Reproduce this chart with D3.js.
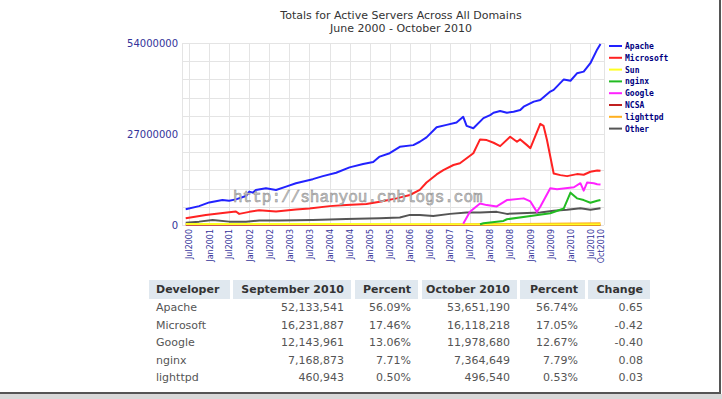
<!DOCTYPE html>
<html lang="en">
<head>
    <meta charset="UTF-8">
    <title>Totals for Active Servers Across All Domains</title>
    <script src="https://d3js.org/d3.v7.min.js"></script>
    <style>
        body { margin: 0; background: #fff; }
        .title { font: 11px "DejaVu Sans", Verdana, sans-serif; fill: #333; text-anchor: middle; }
        .axis text { font-family: "DejaVu Sans", Verdana, sans-serif; fill: #33339a; }
        .legend text { font: bold 8px "DejaVu Sans Mono", monospace; fill: #000080; }
        .tbl text { font: 11px "DejaVu Sans", Verdana, sans-serif; fill: #555; }
        .tbl .head { font-weight: bold; fill: #333; }
    </style>
</head>
<body>
<svg id="chart" width="722" height="399"></svg>
<script>
    // series values in millions of active sites, [month, value]
    var apache = [["2000-06",4.7],["2000-10",5.6],["2001-01",6.7],["2001-05",7.4],["2001-07",7.2],["2001-09",7.6],["2001-12",8.6],["2002-01",9.9],["2002-02",9.6],["2002-03",10.4],["2002-06",10.9],["2002-09",10.4],["2002-12",11.4],["2003-03",12.4],["2003-08",13.6],["2003-11",14.5],["2004-03",15.5],["2004-07",17.1],["2004-11",18.1],["2005-02",18.7],["2005-04",20.3],["2005-07",21.3],["2005-10",23.2],["2006-02",23.7],["2006-04",24.7],["2006-06",26.0],["2006-09",29.0],["2006-12",29.7],["2007-03",30.4],["2007-05",32.1],["2007-06",29.4],["2007-08",28.7],["2007-11",31.7],["2008-01",32.6],["2008-02",33.3],["2008-04",33.8],["2008-06",33.3],["2008-08",33.6],["2008-10",34.1],["2008-11",35.1],["2009-02",36.6],["2009-04",37.1],["2009-07",39.6],["2009-08",40.1],["2009-11",43.2],["2010-01",42.8],["2010-03",45.0],["2010-05",45.5],["2010-07",48.0],["2010-09",52.1],["2010-10",53.7]];
    var microsoft = [["2000-06",2.0],["2000-12",3.0],["2001-07",3.8],["2001-09",4.0],["2001-10",3.3],["2002-01",3.9],["2002-04",4.4],["2002-09",4.0],["2003-03",4.6],["2003-07",4.9],["2004-01",5.6],["2004-06",5.9],["2004-12",6.2],["2005-04",6.9],["2005-09",7.9],["2006-01",8.9],["2006-04",10.4],["2006-06",12.6],["2006-09",15.0],["2006-11",16.3],["2007-02",17.8],["2007-04",18.3],["2007-06",19.8],["2007-08",21.3],["2007-10",25.4],["2007-12",25.2],["2008-02",24.4],["2008-04",23.4],["2008-07",26.2],["2008-09",24.7],["2008-10",25.4],["2008-12",23.7],["2009-01",22.8],["2009-04",30.0],["2009-05",29.4],["2009-06",25.2],["2009-08",15.3],["2009-10",14.8],["2009-12",14.5],["2010-03",15.1],["2010-05",14.9],["2010-07",15.8],["2010-09",16.2],["2010-10",16.1]];
    var sun = [["2000-06",0.3],["2003-10",0.3],["2007-02",0.2],["2010-10",0.15]];
    var nginx = [["2007-10",0.2],["2007-11",0.5],["2008-05",1.2],["2008-06",1.7],["2008-12",2.5],["2009-07",3.5],["2009-11",4.9],["2010-01",9.6],["2010-03",7.9],["2010-05",7.4],["2010-07",6.6],["2010-09",7.2],["2010-10",7.4]];
    var google = [["2007-05",0.4],["2007-07",3.9],["2007-10",6.4],["2007-12",5.9],["2008-03",5.5],["2008-06",7.4],["2008-11",7.9],["2009-01",7.0],["2009-03",3.9],["2009-04",5.4],["2009-07",10.9],["2009-09",10.6],["2010-02",11.2],["2010-04",12.4],["2010-05",10.2],["2010-06",12.6],["2010-08",12.4],["2010-09",12.1],["2010-10",12.0]];
    var ncsa = [["2000-06",0.1],["2010-10",0.02]];
    var lighttpd = [["2006-04",0.05],["2008-10",0.3],["2010-10",0.5]];
    var other = [["2000-06",0.7],["2000-10",1.0],["2001-02",1.5],["2001-07",1.0],["2001-12",1.0],["2002-04",1.3],["2002-10",1.3],["2003-08",1.5],["2004-06",1.8],["2005-04",2.0],["2005-10",2.2],["2006-01",3.0],["2006-04",3.0],["2006-08",2.7],["2007-01",3.3],["2007-06",3.7],["2007-10",3.7],["2008-03",3.9],["2008-06",3.3],["2008-10",3.5],["2009-04",3.7],["2009-08",4.2],["2009-12",4.5],["2010-04",5.0],["2010-07",4.5],["2010-10",5.0]];

    var seriesNames = ["Apache", "Microsoft", "Sun", "nginx", "Google", "NCSA", "lighttpd", "Other"];
    var seriesColors = ["#2222ff", "#ff2222", "#ffff22", "#22bb22", "#ff22ff", "#c02020", "#ffb020", "#555555"];
    var xTickLabels = ["Jul2000","Jan2001","Jul2001","Jan2002","Jul2002","Jan2003","Jul2003","Jan2004","Jul2004","Jan2005","Jul2005","Jan2006","Jul2006","Jan2007","Jul2007","Jan2008","Jul2008","Jan2009","Jul2009","Jan2010","Jul2010","Oct2010"];
    var yTickValues = [0, 27000000, 54000000];

    // table
    var tableHeads = ["Developer", "September 2010", "Percent", "October 2010", "Percent", "Change"];
    var developers = ["Apache", "Microsoft", "Google", "nginx", "lighttpd"];
    var sep2010 = [52133541, 16231887, 12143961, 7168873, 460943];
    var sepPercent = [56.09, 17.46, 13.06, 7.71, 0.50];
    var oct2010 = [53651190, 16118218, 11978680, 7364649, 496540];
    var octPercent = [56.74, 17.05, 12.67, 7.79, 0.53];
    var change = [0.65, -0.42, -0.40, 0.08, 0.03];

    var seriesData = [apache, microsoft, sun, nginx, google, ncsa, lighttpd, other];
    var parseMonth = d3.timeParse("%Y-%m");
    var parseTick = d3.timeParse("%b%Y");

    var svg = d3.select("#chart");
    var plot = { left: 182, right: 604, top: 43, bottom: 225 };

    var x = d3.scaleTime()
        .domain([parseMonth("2000-06"), parseMonth("2010-10")])
        .range([185.7, 600.5]);
    var y = d3.scaleLinear()
        .domain([0, 54000000])
        .range([plot.bottom, plot.top]);

    // title
    svg.append("text").attr("class", "title").attr("x", 401).attr("y", 19)
        .text("Totals for Active Servers Across All Domains");
    svg.append("text").attr("class", "title").attr("x", 401).attr("y", 32)
        .text("June 2000 - October 2010");

    // grid
    var grid = svg.append("g").attr("stroke", "#e4e4e4").attr("stroke-width", 1);
    grid.selectAll(".hg")
        .data(d3.range(0, 54000001, 5400000))
        .enter().append("line")
        .attr("x1", plot.left).attr("x2", plot.right)
        .attr("y1", d => Math.round(y(d)) + 0.5).attr("y2", d => Math.round(y(d)) + 0.5);
    var tickDates = xTickLabels.map(parseTick);
    grid.selectAll(".vg")
        .data(tickDates.slice(0, -1))
        .enter().append("line")
        .attr("x1", d => Math.round(x(d)) + 0.5).attr("x2", d => Math.round(x(d)) + 0.5)
        .attr("y1", plot.top).attr("y2", plot.bottom);
    grid.append("line").attr("x1", plot.left + 0.5).attr("x2", plot.left + 0.5).attr("y1", plot.top).attr("y2", plot.bottom);
    grid.append("line").attr("x1", plot.right + 0.5).attr("x2", plot.right + 0.5).attr("y1", plot.top).attr("y2", plot.bottom);

    // axes
    var yAxis = svg.append("g")
        .attr("class", "axis")
        .attr("transform", "translate(" + plot.left + ",0)")
        .call(d3.axisLeft(y).tickValues(yTickValues).tickFormat(d3.format("d")).tickSize(0).tickPadding(4));
    yAxis.select(".domain").remove();
    yAxis.selectAll("text").style("font-size", "10px");

    var xAxis = svg.append("g")
        .attr("class", "axis")
        .attr("transform", "translate(0," + plot.bottom + ")")
        .call(d3.axisBottom(x).tickValues(tickDates).tickFormat(d3.timeFormat("%b%Y")).tickSize(0));
    xAxis.select(".domain").remove();
    xAxis.selectAll("text")
        .style("font-size", "8px")
        .attr("transform", "rotate(-90)")
        .attr("x", -4).attr("y", 0).attr("dy", "0.35em")
        .attr("text-anchor", "end");

    // lines
    var line = d3.line()
        .x(d => x(parseMonth(d[0])))
        .y(d => y(d[1] * 1e6));
    var drawOrder = [7, 6, 5, 2, 4, 3, 1, 0];
    svg.append("g").selectAll("path")
        .data(drawOrder)
        .enter().append("path")
        .attr("fill", "none")
        .attr("stroke", i => seriesColors[i])
        .attr("stroke-width", 2)
        .attr("stroke-linejoin", "round")
        .attr("d", i => line(seriesData[i]));

    // legend
    var legend = svg.append("g").attr("class", "legend");
    var leg = legend.selectAll("g")
        .data(seriesNames)
        .enter().append("g")
        .attr("transform", (d, i) => "translate(609," + (46 + i * 11.8) + ")");
    leg.append("line").attr("x1", 0).attr("x2", 13).attr("y1", 0).attr("y2", 0)
        .attr("stroke", (d, i) => seriesColors[i]).attr("stroke-width", 2);
    leg.append("text").attr("x", 16).attr("y", 3).text(d => d);

    // watermark
    svg.append("text")
        .attr("x", 233).attr("y", 202)
        .attr("font-family", "Liberation Mono, monospace")
        .attr("font-size", 16)
        .attr("fill", "#c8c8c8").attr("stroke", "#8a8a8a").attr("stroke-width", 0.5)
        .text("http://shanyou.cnblogs.com");

    // table
    var cols = [[149, 230, "start"], [233, 351, "end"], [355, 418, "end"], [422, 517, "end"], [520, 585, "end"], [588, 650, "end"]];
    var tbl = svg.append("g").attr("class", "tbl");
    tbl.selectAll("rect")
        .data(cols)
        .enter().append("rect")
        .attr("x", d => d[0]).attr("y", 280)
        .attr("width", d => d[1] - d[0]).attr("height", 19)
        .attr("fill", "#e0e8ef");
    tbl.selectAll(".head")
        .data(tableHeads)
        .enter().append("text")
        .attr("class", "head")
        .attr("x", (d, i) => cols[i][2] == "start" ? cols[i][0] + 7 : cols[i][1] - 7)
        .attr("y", 293)
        .attr("text-anchor", (d, i) => cols[i][2])
        .text(d => d);

    var fmtInt = d3.format(",");
    var fmtPct = d => d.toFixed(2) + "%";
    var rows = developers.map((d, i) => [d, fmtInt(sep2010[i]), fmtPct(sepPercent[i]), fmtInt(oct2010[i]), fmtPct(octPercent[i]), change[i].toFixed(2)]);
    rows.forEach(function(r, ri) {
        tbl.selectAll(".r" + ri)
            .data(r)
            .enter().append("text")
            .attr("x", (d, i) => cols[i][2] == "start" ? cols[i][0] + 7 : cols[i][1] - 7)
            .attr("y", 311 + ri * 17.5)
            .attr("text-anchor", (d, i) => cols[i][2])
            .text(d => d);
    });

    // screenshot frame
    svg.append("rect").attr("x", 0).attr("y", 394).attr("width", 722).attr("height", 5).attr("fill", "#d8d8d8");
    svg.append("line").attr("x1", 0).attr("x2", 720).attr("y1", 393).attr("y2", 393).attr("stroke", "#555").attr("stroke-width", 2);
    svg.append("line").attr("x1", 720).attr("x2", 720).attr("y1", 0).attr("y2", 394).attr("stroke", "#555").attr("stroke-width", 2);
</script>
</body>
</html>
